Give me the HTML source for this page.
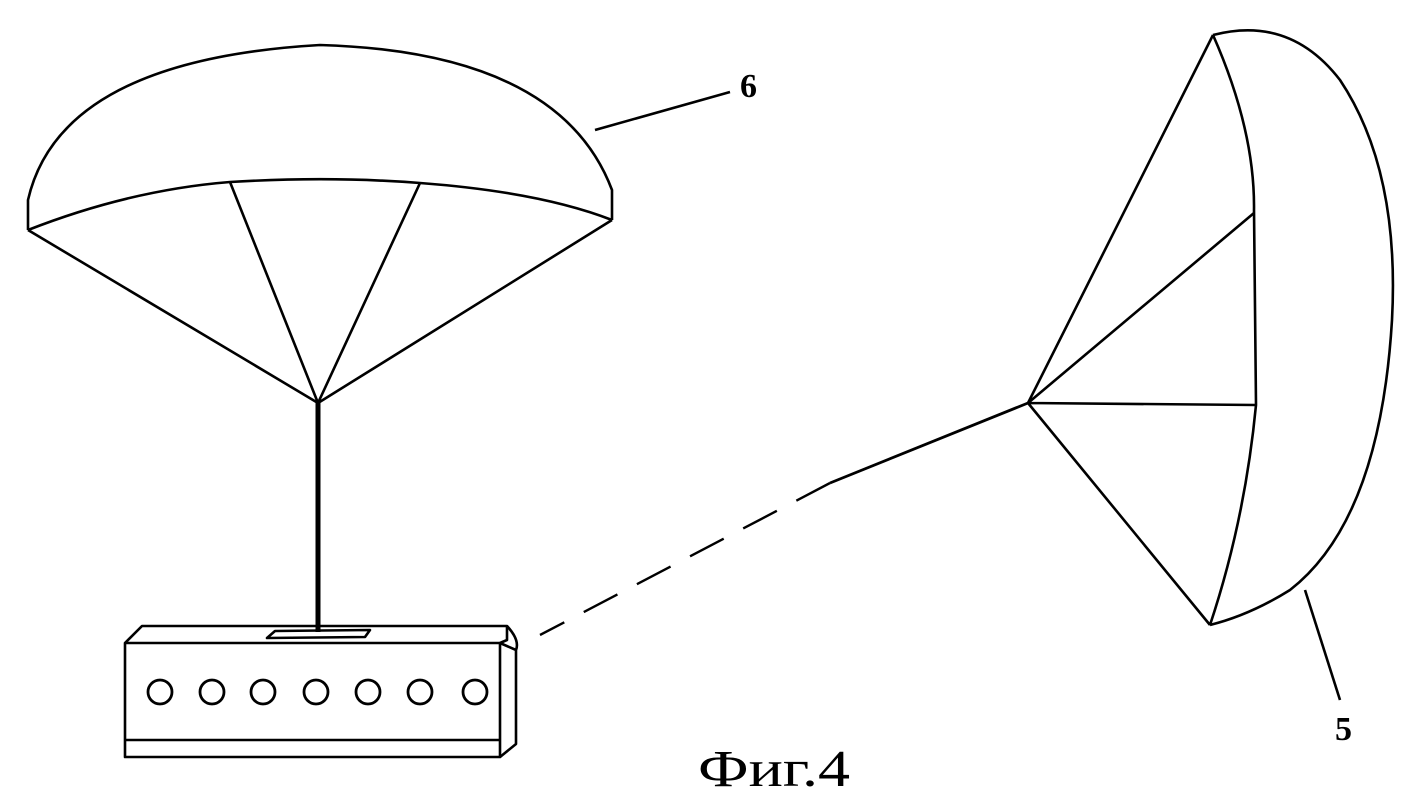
<!DOCTYPE html>
<html><head><meta charset="utf-8"><style>body{margin:0;background:#fff}svg{display:block}</style></head><body>
<svg width="1415" height="803" viewBox="0 0 1415 803" xmlns="http://www.w3.org/2000/svg">
<g fill="none" stroke="#000" stroke-width="2.6" stroke-linejoin="round">
<!-- left parachute -->
<path d="M28,230 L28,200 Q60,60 320,45 Q560,52 612,190 L612,220"/>
<path d="M28,230 Q130,190 230,182 Q330,176 420,183 Q540,192 612,220"/>
<path d="M28,230 L318,403 L612,220 M230,182 L318,403 L420,183"/>
<path d="M318,403 L318,632" stroke-width="5"/>
<path d="M595,130 L730,92"/>
<!-- box -->
<path d="M125,643 L125,757 L500,757 L500,643 Z"/>
<path d="M125,740 L500,740"/>
<path d="M125,643 L142,626 L507,626 L507,640 L500,643"/>
<path d="M507,626 Q520,640 516,650 L516,744 L500,757 M500,643 L516,650"/>
<path d="M267,638 L275,631 L370,630 L365,637 Z"/>
<g stroke-width="2.8">
<circle cx="160" cy="692" r="12"/><circle cx="212" cy="692" r="12"/><circle cx="263" cy="692" r="12"/><circle cx="316" cy="692" r="12"/><circle cx="368" cy="692" r="12"/><circle cx="420" cy="692" r="12"/><circle cx="475" cy="692" r="12"/>
</g>
<!-- tether -->
<path d="M1028,403 L830,483" stroke-width="2.8"/>
<path d="M830,483 L540,635" stroke-width="2.4" stroke-dasharray="38,22"/>
<!-- right parachute -->
<path d="M1213,35 Q1290,15 1340,80 Q1400,170 1392,320 Q1380,520 1290,590 Q1250,615 1210,625"/>
<path d="M1213,35 Q1255,130 1254,210 L1256,405 Q1245,520 1210,625"/>
<path d="M1213,35 L1028,403 L1210,625 M1028,403 L1254,213 M1028,403 L1256,405"/>
<path d="M1305,590 L1340,700"/>
</g>
<text x="740" y="97" font-family="Liberation Serif, serif" font-weight="bold" font-size="34">6</text>
<text x="1335" y="740" font-family="Liberation Serif, serif" font-weight="bold" font-size="34">5</text>
<text x="698" y="786" font-family="Liberation Serif, serif" font-size="52" textLength="152" lengthAdjust="spacingAndGlyphs">Фиг.4</text>
</svg>
</body></html>
